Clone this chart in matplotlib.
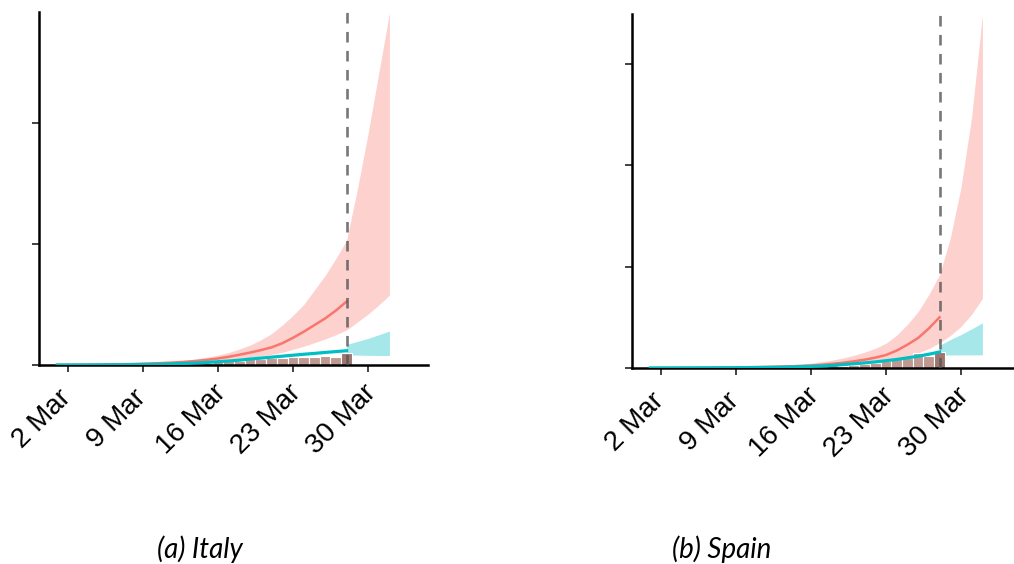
import pandas as pd
import matplotlib
matplotlib.use("Agg")
import matplotlib.pyplot as plt
from matplotlib.transforms import ScaledTranslation

# dates
fit_dates = pd.date_range("2020-03-01", "2020-03-28")
fc_dates = pd.date_range("2020-03-28", "2020-04-01")
tick_dates = pd.to_datetime(["2020-03-02", "2020-03-09", "2020-03-16", "2020-03-23", "2020-03-30"])
tick_labels = ["2 Mar", "9 Mar", "16 Mar", "23 Mar", "30 Mar"]
cutoff = pd.Timestamp("2020-03-28")

# Italy
it_deaths = [8, 5, 18, 27, 28, 41, 49, 36, 133, 97, 168, 196, 189, 250, 175, 368, 349, 345,
             470, 470, 560, 560, 640, 690, 690, 745, 690, 1000]
it_red = [10, 14, 19, 26, 35, 47, 62, 80, 105, 135, 170, 215, 270, 340, 430, 540, 680, 850,
          1030, 1230, 1460, 1800, 2250, 2750, 3300, 3850, 4500, 5250]
it_red_hi = [14, 20, 27, 37, 50, 66, 88, 115, 150, 195, 250, 320, 400, 510, 650, 820, 1040,
             1320, 1650, 2080, 2600, 3300, 4100, 5000, 6200, 7400, 8800, 10300]
it_red_lo = [6, 9, 12, 16, 22, 29, 38, 50, 65, 83, 105, 135, 170, 210, 265, 330, 410, 510,
             620, 740, 880, 1050, 1300, 1550, 1850, 2150, 2500, 2890]
it_teal = [3, 5, 7, 10, 14, 19, 25, 33, 45, 60, 80, 105, 135, 170, 215, 270, 330, 400,
           490, 570, 650, 730, 810, 890, 960, 1040, 1110, 1180]
it_fc_red_hi = [10300, 14500, 19100, 24100, 29100]
it_fc_red_lo = [2890, 3550, 4200, 4950, 5780]
it_fc_teal_hi = [1700, 1950, 2200, 2500, 2810]
it_fc_teal_lo = [830, 820, 800, 790, 780]

# Spain
es_deaths = [0, 0, 0, 1, 1, 2, 3, 5, 7, 11, 7, 19, 10, 50, 70, 100, 60, 180, 110, 150,
             210, 260, 330, 430, 495, 750, 600, 790]
es_red = [4, 6, 8, 10, 13, 16, 20, 25, 31, 38, 46, 56, 68, 82, 100, 125, 160, 205, 260, 330,
          410, 510, 640, 860, 1150, 1480, 1950, 2500]
es_red_hi = [8, 11, 15, 19, 25, 31, 39, 49, 60, 73, 88, 107, 130, 157, 190, 240, 305, 390,
             495, 625, 780, 970, 1220, 1620, 2150, 2780, 3620, 4600]
es_red_lo = [2, 3, 4, 5, 6, 8, 10, 12, 15, 19, 23, 28, 34, 41, 50, 62, 80, 102, 130, 165,
             205, 255, 320, 430, 570, 740, 960, 1240]
es_teal = [1, 2, 3, 4, 5, 7, 9, 12, 15, 19, 24, 30, 38, 48, 62, 80, 100, 130, 170, 210,
           250, 300, 360, 420, 500, 580, 680, 790]
es_fc_red_hi = [4600, 6400, 8900, 12400, 17400]
es_fc_red_lo = [1240, 1600, 2050, 2650, 3430]
es_fc_teal_hi = [1120, 1400, 1650, 1930, 2230]
es_fc_teal_lo = [640, 640, 645, 645, 650]

RED = "#f8766d"
TEAL = "#00bfc4"


def panel(ax, deaths, red, red_hi, red_lo, teal, fc_red_hi, fc_red_lo, fc_teal_hi, fc_teal_lo,
          ymax, ystep):
    cols = ["#c09892"] * (len(deaths) - 1) + ["#9c7671"]
    ax.bar(fit_dates, deaths, width=1.0, color=cols, edgecolor="white", linewidth=0.8, zorder=1)
    ax.fill_between(fit_dates, red_lo, red_hi, color=RED, alpha=0.33, lw=0, zorder=0.5)
    ax.fill_between(fc_dates, fc_red_lo, fc_red_hi, color=RED, alpha=0.33, lw=0, zorder=0.5)
    ax.fill_between(fc_dates, fc_teal_lo, fc_teal_hi, color=TEAL, alpha=0.35, lw=0, zorder=0.6)
    ax.plot(fit_dates, red, color=RED, lw=1.8, zorder=3)
    ax.plot(fit_dates, teal, color=TEAL, lw=2.3, zorder=3.1)
    ax.axvline(cutoff, color="#555555", alpha=0.8, lw=1.9, dashes=(4, 3.2), zorder=4)

    ax.set_xlim(pd.Timestamp("2020-03-02") - pd.Timedelta(days=2.7),
                pd.Timestamp("2020-03-02") + pd.Timedelta(days=33.6))
    ax.set_ylim(0, ymax)
    ax.set_yticks([ystep * i for i in range(int(ymax // ystep) + 1)])
    ax.set_yticklabels([])
    ax.set_xticks(tick_dates)
    ax.set_xticklabels(tick_labels, fontsize=20, family="Liberation Sans")
    for s in ["top", "right"]:
        ax.spines[s].set_visible(False)
    for s in ["left", "bottom"]:
        ax.spines[s].set_linewidth(1.8)
        ax.spines[s].set_color("black")
    ax.tick_params(length=5, width=1.3, color="#333333")
    ax.tick_params(axis="x", pad=34)
    shift = ScaledTranslation(-0.26, 0, fig.dpi_scale_trans)
    for lab in ax.get_xticklabels():
        lab.set_rotation(45)
        lab.set_ha("center")
        lab.set_va("center")
        lab.set_rotation_mode("anchor")
        lab.set_transform(lab.get_transform() + shift)


fig = plt.figure(figsize=(10.14, 5.64), dpi=100)
ax1 = fig.add_axes([0.0385, 0.3528, 0.3836, 0.6259])
ax2 = fig.add_axes([0.6233, 0.3475, 0.3836, 0.6277])

panel(ax1, it_deaths, it_red, it_red_hi, it_red_lo, it_teal,
      it_fc_red_hi, it_fc_red_lo, it_fc_teal_hi, it_fc_teal_lo, 29170, 10000)
panel(ax2, es_deaths, es_red, es_red_hi, es_red_lo, es_teal,
      es_fc_red_hi, es_fc_red_lo, es_fc_teal_hi, es_fc_teal_lo, 17450, 5000)

fig.text(0.197, 0.027, "(a) Italy", ha="center", va="center", fontsize=20,
         style="italic", family="Lato")
fig.text(0.712, 0.027, "(b) Spain", ha="center", va="center", fontsize=20,
         style="italic", family="Lato")

fig.savefig("out.png", dpi=100)
